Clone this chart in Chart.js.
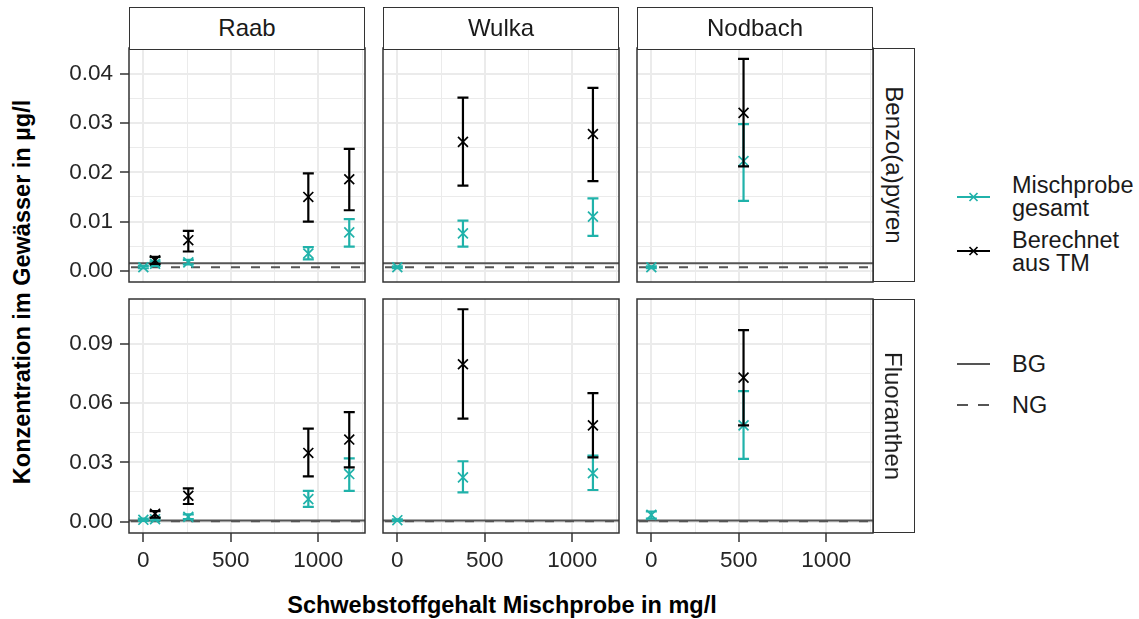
<!DOCTYPE html>
<html>
<head>
<meta charset="utf-8">
<script src="https://cdn.jsdelivr.net/npm/chart.js@4.4.1/dist/chart.umd.min.js"></script>
<style>
	body { margin: 0; background: #fff; font-family: "Liberation Sans", Arial, sans-serif; }
	#wrap { position: relative; width: 1139px; height: 619px; overflow: hidden; background: #fff; }
	canvas { position: absolute; }
	.strip { position: absolute; box-sizing: border-box; border: 1.5px solid #333; background: #fff; color: #1a1a1a;
		font-size: 24px; display: flex; align-items: center; justify-content: center; z-index: 2; }
	.strip.right span { transform: rotate(90deg); white-space: nowrap; }
	.title { position: absolute; font-weight: bold; font-size: 23.5px; color: #000; white-space: nowrap; }
	.leg { position: absolute; font-size: 23.5px; line-height: 23px; color: #1a1a1a; white-space: nowrap; }
	svg { position: absolute; overflow: visible; }
</style>
</head>
<body>
<div id="wrap">
	<div class="title" id="xtitle">Schwebstoffgehalt Mischprobe in mg/l</div>
	<div class="title" id="ytitle">Konzentration im Gewässer in µg/l</div>
</div>
<script>
(function() {
	'use strict';

	// facets
	const stations = ['Raab', 'Wulka', 'Nodbach'];
	const substances = ['Benzo(a)pyren', 'Fluoranthen'];

	// x axis (Schwebstoffgehalt, mg/l)
	const xLimits = [-82, 1267];
	const xMajor = [0, 500, 1000];
	const xMinor = [250, 750, 1250];

	// y axes per row
	const yLimBap = [-0.0023, 0.0453];
	const yMajorBap = [0, 0.01, 0.02, 0.03, 0.04];
	const yMinorBap = [0.005, 0.015, 0.025, 0.035, 0.045];
	const yLimFlu = [-0.0058, 0.1129];
	const yMajorFlu = [0, 0.03, 0.06, 0.09];
	const yMinorFlu = [0.015, 0.045, 0.075, 0.105];

	// BG / NG per substance
	const bgValues = [0.0015, 0.0006];
	const ngValues = [0.0007, 0.0002];

	// Schwebstoffgehalt of the samples
	const raabMixX = [0, 67, 257, 943, 1177];
	const raabCalcX = [67, 257, 943, 1177];
	const wulkaMixX = [0, 375, 1118];
	const wulkaCalcX = [375, 1118];
	const nodbachMixX = [0, 527];
	const nodbachCalcX = [527];

	// [value, lower, upper] in µg/l
	const bapRaabMix = [[0.0007, 0.0005, 0.0010], [0.0014, 0.0010, 0.0019], [0.0017, 0.0013, 0.0022], [0.0035, 0.0023, 0.0048], [0.0078, 0.0049, 0.0105]];
	const bapRaabCalc = [[0.0021, 0.0014, 0.0028], [0.0062, 0.0039, 0.0081], [0.0150, 0.0100, 0.0198], [0.0186, 0.0123, 0.0248]];
	const bapWulkaMix = [[0.0007, 0.0005, 0.0009], [0.0076, 0.0049, 0.0102], [0.0110, 0.0071, 0.0147]];
	const bapWulkaCalc = [[0.0262, 0.0173, 0.0352], [0.0278, 0.0182, 0.0372]];
	const bapNodbachMix = [[0.0007, 0.0005, 0.0009], [0.0223, 0.0142, 0.0298]];
	const bapNodbachCalc = [[0.0321, 0.0212, 0.0431]];

	const fluRaabMix = [[0.0009, 0.0004, 0.0015], [0.0012, 0.0006, 0.0019], [0.0024, 0.0012, 0.0036], [0.0114, 0.0075, 0.0156], [0.0241, 0.0156, 0.0321]];
	const fluRaabCalc = [[0.0040, 0.0020, 0.0053], [0.0131, 0.0089, 0.0168], [0.0348, 0.0229, 0.0471], [0.0416, 0.0275, 0.0555]];
	const fluWulkaMix = [[0.0007, 0.0004, 0.0011], [0.0224, 0.0148, 0.0306], [0.0245, 0.0160, 0.0335]];
	const fluWulkaCalc = [[0.0798, 0.0522, 0.1077], [0.0488, 0.0326, 0.0652]];
	const fluNodbachMix = [[0.0034, 0.0015, 0.0051], [0.0488, 0.0318, 0.0662]];
	const fluNodbachCalc = [[0.0730, 0.0488, 0.0971]];

	const TEAL = '#20B2AA';
	const BLACK = '#000000';
	const GRID = '#EBEBEB';
	const DARK = '#333333';

	const panels = [
		[
			{ mixX: raabMixX, mix: bapRaabMix, calcX: raabCalcX, calc: bapRaabCalc },
			{ mixX: wulkaMixX, mix: bapWulkaMix, calcX: wulkaCalcX, calc: bapWulkaCalc },
			{ mixX: nodbachMixX, mix: bapNodbachMix, calcX: nodbachCalcX, calc: bapNodbachCalc }
		],
		[
			{ mixX: raabMixX, mix: fluRaabMix, calcX: raabCalcX, calc: fluRaabCalc },
			{ mixX: wulkaMixX, mix: fluWulkaMix, calcX: wulkaCalcX, calc: fluWulkaCalc },
			{ mixX: nodbachMixX, mix: fluNodbachMix, calcX: nodbachCalcX, calc: fluNodbachCalc }
		]
	];
	const rowAxes = [
		{ lim: yLimBap, major: yMajorBap, minor: yMinorBap },
		{ lim: yLimFlu, major: yMajorFlu, minor: yMinorFlu }
	];

	// layout (px)
	const lefts = [129, 383, 637];
	const tops = [48, 299];
	const PW = 236, PH = 234;
	const YAXIS_W = 80, XAXIS_H = 50, PAD = 3;
	const wrap = document.getElementById('wrap');

	const isIn = (arr, v) => arr.some(m => Math.abs(m - v) < 1e-9);

	const decoPlugin = {
		id: 'deco',
		beforeDatasetsDraw(chart) {
			const o = chart.options.plugins.deco;
			const { ctx, chartArea: a } = chart;
			const y = chart.scales.y;
			ctx.save();
			ctx.beginPath();
			ctx.rect(a.left, a.top, a.width, a.height);
			ctx.clip();
			ctx.strokeStyle = '#555555';
			ctx.lineWidth = 2;
			const yb = y.getPixelForValue(o.bg);
			ctx.beginPath(); ctx.moveTo(a.left, yb); ctx.lineTo(a.right, yb); ctx.stroke();
			ctx.setLineDash([9, 11]);
			const yn = y.getPixelForValue(o.ng);
			ctx.beginPath(); ctx.moveTo(a.left + 2, yn); ctx.lineTo(a.right, yn); ctx.stroke();
			ctx.restore();
		},
		beforeDatasetDraw(chart, args) {
			const ds = chart.data.datasets[args.index];
			const { ctx } = chart;
			const x = chart.scales.x, y = chart.scales.y;
			ctx.save();
			ctx.strokeStyle = ds.borderColor;
			ctx.lineWidth = 2.2;
			ds.data.forEach((p, i) => {
				const px = x.getPixelForValue(p.x);
				const lo = y.getPixelForValue(ds.lo[i]);
				const hi = y.getPixelForValue(ds.hi[i]);
				ctx.beginPath();
				ctx.moveTo(px, lo); ctx.lineTo(px, hi);
				ctx.moveTo(px - 5.5, lo); ctx.lineTo(px + 5.5, lo);
				ctx.moveTo(px - 5.5, hi); ctx.lineTo(px + 5.5, hi);
				ctx.stroke();
			});
			ctx.restore();
		},
		afterDraw(chart) {
			const { ctx, chartArea: a } = chart;
			ctx.save();
			ctx.strokeStyle = DARK;
			ctx.lineWidth = 1.5;
			ctx.strokeRect(a.left, a.top, a.width, a.height);
			ctx.restore();
		}
	};

	function zeroPad(s) {
		s.paddingLeft = 0; s.paddingRight = 0; s.paddingTop = 0; s.paddingBottom = 0;
	}

	function makePanel(row, col) {
		const p = panels[row][col];
		const ax = rowAxes[row];
		const L = col === 0 ? YAXIS_W : 0;
		const B = row === 1 ? XAXIS_H : 0;
		const cv = document.createElement('canvas');
		cv.width = PW + L + 2 * PAD;
		cv.height = PH + B + 2 * PAD;
		cv.style.left = (lefts[col] - L - PAD) + 'px';
		cv.style.top = (tops[row] - PAD) + 'px';
		wrap.appendChild(cv);

		const xTicks = xMajor.concat(xMinor).sort((a, b) => a - b);
		const yTicks = ax.major.concat(ax.minor).sort((a, b) => a - b);
		const font = { family: '"Liberation Sans", Arial, sans-serif', size: 22.5 };

		new Chart(cv.getContext('2d'), {
			type: 'scatter',
			data: {
				datasets: [
					{
						label: 'Berechnet aus TM',
						data: p.calcX.map((v, i) => ({ x: v, y: p.calc[i][0] })),
						lo: p.calc.map(d => d[1]), hi: p.calc.map(d => d[2]),
						borderColor: BLACK, backgroundColor: BLACK,
						pointStyle: 'crossRot', pointRadius: 7, pointBorderWidth: 1.7, pointHoverRadius: 7
					},
					{
						label: 'Mischprobe gesamt',
						data: p.mixX.map((v, i) => ({ x: v, y: p.mix[i][0] })),
						lo: p.mix.map(d => d[1]), hi: p.mix.map(d => d[2]),
						borderColor: TEAL, backgroundColor: TEAL,
						pointStyle: 'crossRot', pointRadius: 7, pointBorderWidth: 1.7, pointHoverRadius: 7
					}
				]
			},
			options: {
				responsive: false,
				animation: false,
				events: [],
				layout: { padding: PAD, autoPadding: false },
				plugins: {
					legend: { display: false },
					tooltip: { enabled: false },
					deco: { bg: bgValues[row], ng: ngValues[row] }
				},
				scales: {
					x: {
						type: 'linear',
						min: xLimits[0], max: xLimits[1],
						afterBuildTicks: s => { s.ticks = xTicks.map(v => ({ value: v })); },
						afterFit: s => { s.height = B; zeroPad(s); },
						border: { display: false },
						grid: {
							color: GRID,
							lineWidth: c => (c.tick && isIn(xMajor, c.tick.value)) ? 2 : 1,
							drawTicks: row === 1,
							tickLength: 9,
							tickWidth: 1.5,
							tickColor: c => (c.tick && isIn(xMajor, c.tick.value)) ? DARK : 'rgba(0,0,0,0)'
						},
						ticks: {
							display: row === 1,
							autoSkip: false, maxRotation: 0,
							padding: 5,
							color: '#262626', font,
							callback: v => isIn(xMajor, v) ? String(v) : ''
						}
					},
					y: {
						type: 'linear',
						min: ax.lim[0], max: ax.lim[1],
						afterBuildTicks: s => { s.ticks = yTicks.map(v => ({ value: v })); },
						afterFit: s => { s.width = L; zeroPad(s); },
						border: { display: false },
						grid: {
							color: GRID,
							lineWidth: c => (c.tick && isIn(ax.major, c.tick.value)) ? 2 : 1,
							drawTicks: col === 0,
							tickLength: 9,
							tickWidth: 1.5,
							tickColor: c => (c.tick && isIn(ax.major, c.tick.value)) ? DARK : 'rgba(0,0,0,0)'
						},
						ticks: {
							display: col === 0,
							autoSkip: false,
							padding: 7,
							color: '#262626', font,
							callback: v => isIn(ax.major, v) ? v.toFixed(2) : ''
						}
					}
				}
			},
			plugins: [decoPlugin]
		});
	}

	function addStrip(text, x, y, w, h, right) {
		const d = document.createElement('div');
		d.className = 'strip' + (right ? ' right' : '');
		d.style.left = x + 'px'; d.style.top = y + 'px';
		d.style.width = w + 'px'; d.style.height = h + 'px';
		const s = document.createElement('span');
		s.textContent = text;
		d.appendChild(s);
		wrap.appendChild(d);
	}

	for (let r = 0; r < 2; r++) {
		for (let c = 0; c < 3; c++) makePanel(r, c);
	}
	stations.forEach((s, c) => addStrip(s, lefts[c], 7, PW, 42.5, false));
	substances.forEach((s, r) => addStrip(s, lefts[2] + PW - 0.5, tops[r], 42, PH, true));

	// axis titles
	const xt = document.getElementById('xtitle');
	xt.style.left = '502px'; xt.style.top = '605px';
	xt.style.transform = 'translate(-50%, -50%)';
	const yt = document.getElementById('ytitle');
	yt.style.left = '22px'; yt.style.top = '292px';
	yt.style.transform = 'translate(-50%, -50%) rotate(-90deg)';

	// legends
	function addText(lines, x, y) {
		const d = document.createElement('div');
		d.className = 'leg';
		d.style.left = x + 'px'; d.style.top = y + 'px';
		d.innerHTML = lines.join('<br>');
		wrap.appendChild(d);
	}
	function addKey(x, y, color, dash, cross) {
		const ns = 'http://www.w3.org/2000/svg';
		const svg = document.createElementNS(ns, 'svg');
		svg.setAttribute('width', 33); svg.setAttribute('height', 14);
		svg.style.left = x + 'px'; svg.style.top = (y - 7) + 'px';
		const ln = document.createElementNS(ns, 'line');
		ln.setAttribute('x1', 0); ln.setAttribute('x2', 33);
		ln.setAttribute('y1', 7); ln.setAttribute('y2', 7);
		ln.setAttribute('stroke', color); ln.setAttribute('stroke-width', 2);
		if (dash) ln.setAttribute('stroke-dasharray', '11 10');
		svg.appendChild(ln);
		if (cross) {
			const pth = document.createElementNS(ns, 'path');
			pth.setAttribute('d', 'M12.5,3 L20.5,11 M20.5,3 L12.5,11');
			pth.setAttribute('stroke', color); pth.setAttribute('stroke-width', 1.7);
			svg.appendChild(pth);
		}
		wrap.appendChild(svg);
	}
	addKey(957, 196.5, TEAL, false, true);
	addText(['Mischprobe', 'gesamt'], 1012, 173.5);
	addKey(957, 251, BLACK, false, true);
	addText(['Berechnet', 'aus TM'], 1012, 228.5);
	addKey(957, 364, '#555555', false, false);
	addText(['BG'], 1012, 352.5);
	addKey(957, 405, '#555555', true, false);
	addText(['NG'], 1012, 393.5);
})();
</script>
</body>
</html>
